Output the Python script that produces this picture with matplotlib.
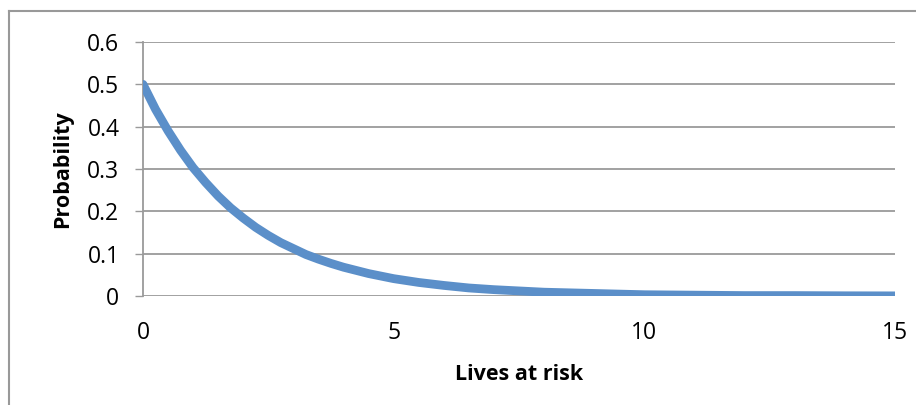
import matplotlib
matplotlib.use("Agg")
import matplotlib.pyplot as plt
from matplotlib.lines import Line2D

lives = [0, 0.25, 0.5, 0.75, 1, 1.25, 1.5, 1.75, 2, 2.25, 2.5, 2.75, 3, 3.25, 3.5, 3.75, 4,
         4.5, 5, 5.5, 6, 6.5, 7, 7.5, 8, 9, 10, 11, 12, 13, 14, 15]
prob = [0.5, 0.441, 0.39, 0.344, 0.303, 0.268, 0.236, 0.208, 0.184, 0.162, 0.143, 0.126,
        0.112, 0.098, 0.087, 0.077, 0.068, 0.053, 0.041, 0.032, 0.025, 0.019, 0.015, 0.012,
        0.009, 0.006, 0.003, 0.002, 0.001, 0.001, 0.0005, 0.0003]
x_ticks = [0, 5, 10, 15]
y_ticks = [0, 0.1, 0.2, 0.3, 0.4, 0.5, 0.6]
y_tick_labels = ["0", "0.1", "0.2", "0.3", "0.4", "0.5", "0.6"]

plt.rcParams['font.family'] = ['Open Sans', 'DejaVu Sans']

fig = plt.figure(figsize=(9.16, 4.05), dpi=100)
ax = fig.add_axes([143/916, 109/405, (895-143)/916, (296-42)/405])

grid_c = "#9a9a9a"
for yv in y_ticks:
    ax.axhline(yv, color=grid_c, lw=1.3, zorder=1)

ax.plot(lives, prob, color="#5B8FC9", lw=6.3, solid_capstyle="round", solid_joinstyle="round", zorder=3)

ax.set_xlim(0, 15)
ax.set_ylim(0, 0.6)
ax.set_xticks(x_ticks)
ax.set_xticklabels([str(v) for v in x_ticks])
ax.set_yticks(y_ticks)
ax.set_yticklabels(y_tick_labels)

for s in ["top", "right", "bottom"]:
    ax.spines[s].set_visible(False)
ax.spines["left"].set_color(grid_c)
ax.spines["left"].set_linewidth(1.3)

ax.tick_params(axis="y", length=6, width=1.0, color=grid_c, labelsize=16.5, pad=11)
ax.tick_params(axis="x", length=0, labelsize=16.5, pad=18)

ax.set_xlabel("Lives at risk", fontsize=15.5, fontweight="bold")
ax.set_ylabel("Probability", fontsize=15.5, fontweight="bold")
ax.xaxis.set_label_coords(0.5, (296 - 374) / 254, transform=ax.transAxes)
ax.xaxis.label.set_va("center")
ax.yaxis.set_label_coords((63 - 143) / 752, 0.5, transform=ax.transAxes)
ax.yaxis.label.set_va("center")

# chart border (partially visible)
fig.add_artist(Line2D([9/916, 9/916], [0, 1 - 11/405], color="#999999", lw=1.5, transform=fig.transFigure))
fig.add_artist(Line2D([9/916, 1.0], [1 - 11/405, 1 - 11/405], color="#999999", lw=1.5, transform=fig.transFigure))

fig.savefig("out.png", dpi=100)
